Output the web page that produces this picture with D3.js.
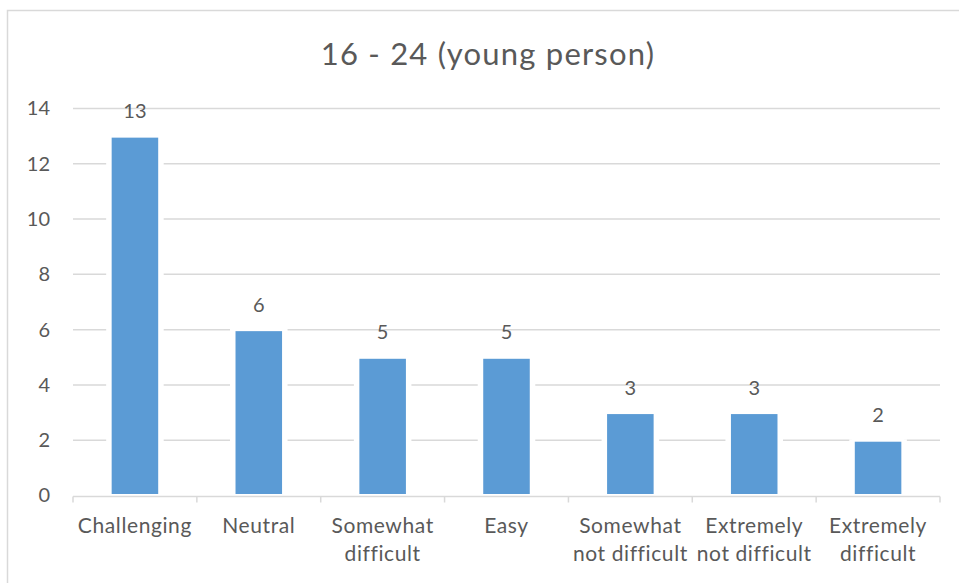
<!DOCTYPE html>
<html>
<head>
<meta charset="utf-8">
<script src="https://cdn.jsdelivr.net/npm/d3@7"></script>
<style>
  html, body { margin: 0; padding: 0; background: #fff; }
  svg { display: block; }
  text { font-family: Lato, "Noto Sans", sans-serif; fill: #595959; }
</style>
</head>
<body>
<svg id="chart" width="959" height="583"></svg>
<script>
// Survey responses for the 16 - 24 age group
const chartTitle = "16 - 24 (young person)";
const categories = [
  ["Challenging"],
  ["Neutral"],
  ["Somewhat", "difficult"],
  ["Easy"],
  ["Somewhat", "not difficult"],
  ["Extremely", "not difficult"],
  ["Extremely", "difficult"]
];
const counts = [13, 6, 5, 5, 3, 3, 2];
const yTicks = [0, 2, 4, 6, 8, 10, 12, 14];

const svg = d3.select("#chart");
const plot = { left: 73, right: 940, top: 108.5, bottom: 495.5 };

// Outer chart frame
svg.append("rect")
  .attr("x", 7.5).attr("y", 10.5)
  .attr("width", 1000).attr("height", 1000)
  .attr("fill", "#fff")
  .attr("stroke", "#d9d9d9").attr("stroke-width", 1.5);

const keys = categories.map(d => d.join(" "));
const x = d3.scaleBand().domain(keys).range([plot.left, plot.right])
  .paddingInner(0.6).paddingOuter(0.3);
const y = d3.scaleLinear().domain([0, 14]).range([plot.bottom, plot.top]);

// Title
svg.append("text")
  .attr("x", 488).attr("y", 65)
  .attr("text-anchor", "middle")
  .attr("font-size", 31)
  .attr("letter-spacing", 1.2)
  .text(chartTitle);

// Horizontal gridlines
svg.append("g")
  .selectAll("line")
  .data(yTicks.filter(t => t > 0))
  .join("line")
  .attr("x1", plot.left).attr("x2", plot.right)
  .attr("y1", d => y(d)).attr("y2", d => y(d))
  .attr("stroke", "#d9d9d9").attr("stroke-width", 1.5);

// Y axis labels
const yAxis = d3.axisLeft(y).tickValues(yTicks).tickSize(0).tickPadding(23);
const gy = svg.append("g").attr("transform", `translate(${plot.left},0)`).call(yAxis);
gy.select(".domain").remove();
gy.selectAll("text")
  .attr("font-size", 20)
  .attr("fill", "#595959")
  .style("font-family", "Lato, 'Noto Sans', sans-serif");

// Bars with a white halo that breaks the gridlines
const bars = svg.append("g");
bars.selectAll("rect.halo")
  .data(counts)
  .join("rect")
  .attr("class", "halo")
  .attr("x", (d, i) => x(keys[i]) - 4)
  .attr("y", d => y(d) - 1)
  .attr("width", x.bandwidth() + 8)
  .attr("height", d => y(0) - y(d) + 1)
  .attr("fill", "#fff");
bars.selectAll("rect.bar")
  .data(counts)
  .join("rect")
  .attr("class", "bar")
  .attr("x", (d, i) => x(keys[i]))
  .attr("y", d => y(d))
  .attr("width", x.bandwidth())
  .attr("height", d => y(0) - y(d))
  .attr("fill", "#5b9bd5")
  .attr("stroke", "#fff").attr("stroke-width", 3);

// X axis line and tick marks at category boundaries
const xAxisG = svg.append("g");
xAxisG.append("line")
  .attr("x1", plot.left).attr("x2", plot.right)
  .attr("y1", y(0) + 1).attr("y2", y(0) + 1)
  .attr("stroke", "#d9d9d9").attr("stroke-width", 1.5);
const bounds = keys.map(k => x(k) - x.step() * x.paddingInner() / 2).concat([plot.right]);
bounds[0] = plot.left;
xAxisG.selectAll("line.tick")
  .data(bounds)
  .join("line")
  .attr("class", "tick")
  .attr("x1", d => d).attr("x2", d => d)
  .attr("y1", y(0) + 1).attr("y2", y(0) + 7)
  .attr("stroke", "#d9d9d9").attr("stroke-width", 1.5);

// Category labels
const catG = svg.append("g");
categories.forEach((lines, i) => {
  const cx = x(keys[i]) + x.bandwidth() / 2;
  const t = catG.append("text")
    .attr("x", cx)
    .attr("y", 533)
    .attr("text-anchor", "middle")
    .attr("font-size", 21)
    .attr("letter-spacing", 0.6);
  lines.forEach((ln, j) => {
    t.append("tspan")
      .attr("x", cx)
      .attr("dy", j === 0 ? 0 : 28)
      .text(ln);
  });
});

// Value labels above bars
svg.append("g")
  .selectAll("text")
  .data(counts)
  .join("text")
  .attr("x", (d, i) => x(keys[i]) + x.bandwidth() / 2)
  .attr("y", d => y(d) - 18)
  .attr("text-anchor", "middle")
  .attr("font-size", 20)
  .attr("fill", "#404040")
  .text(d => d);
</script>
</body>
</html>
